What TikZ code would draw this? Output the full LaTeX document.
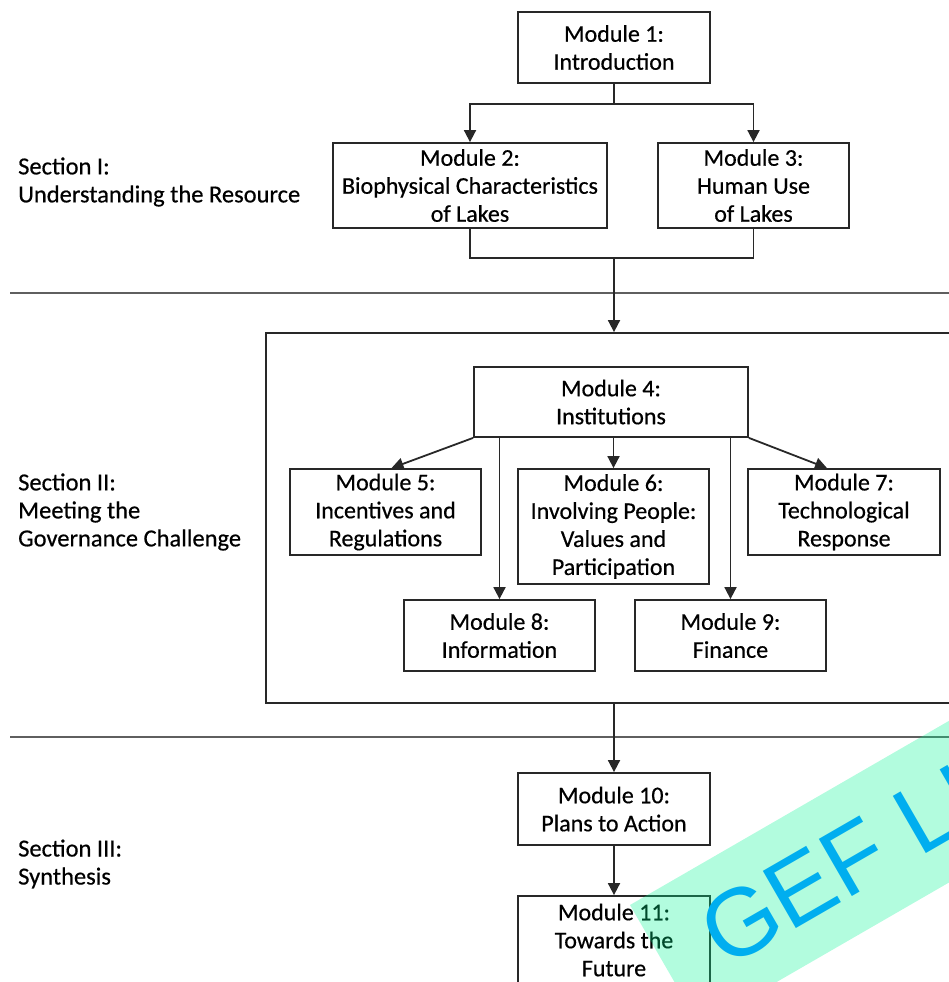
\documentclass[tikz,border=0pt]{standalone}
\usepackage{fontspec}
\setmainfont[FakeBold=0.5]{Carlito}
\newfontfamily\wmfont{Liberation Sans}
\usetikzlibrary{arrows.meta}
\definecolor{linec}{RGB}{40,40,40}
\definecolor{sepc}{RGB}{95,95,95}
\definecolor{wmband}{RGB}{0,245,145}
\definecolor{wmtext}{RGB}{0,174,239}
\begin{document}
\begin{tikzpicture}[x=1pt,y=-1pt,
  box/.style={draw=linec,line width=1.8pt,align=center,inner sep=0pt,
    font=\fontsize{24}{28}\selectfont},
  sep/.style={draw=sepc,line width=2.8pt},
  conn/.style={draw=linec,line width=1.8pt},
  arr/.style={conn,-{Triangle[length=12pt,width=12pt]}},
  lbl/.style={anchor=west,align=left,inner sep=0pt,
    font=\fontsize{24.5}{28}\selectfont}]
\useasboundingbox (0,0) rectangle (949,982);
\clip (0,0) rectangle (949,982);

% section labels
\node[lbl] (s1) at (18,182) {Section I:\\Understanding the Resource};
\node[lbl] (s2) at (18,512) {Section II:\\Meeting the\\Governance Challenge};
\node[lbl] (s3) at (18,864) {Section III:\\Synthesis};

% separators
\coordinate (sepAl) at (10,293);
\coordinate (sepAr) at (960,293);
\coordinate (sepBl) at (10,737);
\coordinate (sepBr) at (960,737);
\draw[sep] (sepAl) -- (sepAr);
\draw[sep] (sepBl) -- (sepBr);

% section II frame
\node[draw=linec,line width=1.8pt,minimum width=696pt,minimum height=370pt,inner sep=0pt] (frame) at (614,518) {};

% modules
\node[box,minimum width=192pt,minimum height=71pt] (m1) at (614,47.5) {Module 1:\\Introduction};
\node[box,minimum width=274pt,minimum height=85pt] (m2) at (470,185.5) {Module 2:\\Biophysical Characteristics\\of Lakes};
\node[box,minimum width=191pt,minimum height=85pt] (m3) at (753.5,185.5) {Module 3:\\Human Use\\of Lakes};
\node[box,minimum width=274pt,minimum height=70pt] (m4) at (611,402) {Module 4:\\Institutions};
\node[box,minimum width=191pt,minimum height=86pt] (m5) at (385.5,512) {Module 5:\\Incentives and\\Regulations};
\node[box,minimum width=191pt,minimum height=115pt] (m6) at (613.5,526.5) {Module 6:\\Involving People:\\Values and\\Participation};
\node[box,minimum width=192pt,minimum height=86pt] (m7) at (844,512) {Module 7:\\Technological\\Response};
\node[box,minimum width=191pt,minimum height=71pt] (m8) at (499.5,635.5) {Module 8:\\Information};
\node[box,minimum width=191pt,minimum height=71pt] (m9) at (730.5,635.5) {Module 9:\\Finance};
\node[box,minimum width=192pt,minimum height=72pt] (m10) at (614,809) {Module 10:\\Plans to Action};
\node[box,minimum width=192pt,minimum height=88pt] (m11) at (614,940) {Module 11:\\Towards the\\Future};

% connectors
\coordinate (j1) at (614,104);
\draw[conn] (m1.south) -- (j1);
\draw[arr] (j1) -| (m2.north);
\draw[arr] (j1) -| (m3.north);
\coordinate (j2) at (614,258);
\draw[conn] (m2.south) |- (j2);
\draw[conn] (m3.south) |- (j2);
\draw[arr] (j2) -- (frame.north);

\draw[arr] (m4.south west) -- ([xshift=6pt]m5.north);
\draw[arr] (m4.south east) -- ([xshift=-17pt]m7.north);
\draw[arr] (m4.south -| m6.north) -- (m6.north);
\draw[arr] (m4.south -| m8.north) -- (m8.north);
\draw[arr] (m4.south -| m9.north) -- (m9.north);

\draw[arr] (frame.south -| m10.north) -- (m10.north);
\draw[arr] (m10.south) -- (m11.north);

% watermark
\fill[wmband,fill opacity=0.3] (630,905) -- ++(-30:420) -- ++(60:140) -- ++(150:420) -- cycle;
\node[anchor=base west,rotate=30,inner sep=0pt,text=wmtext,font=\wmfont\fontsize{96}{96}\selectfont] (wm) at (725,970) {GEF LIVE};
\end{tikzpicture}
\end{document}
